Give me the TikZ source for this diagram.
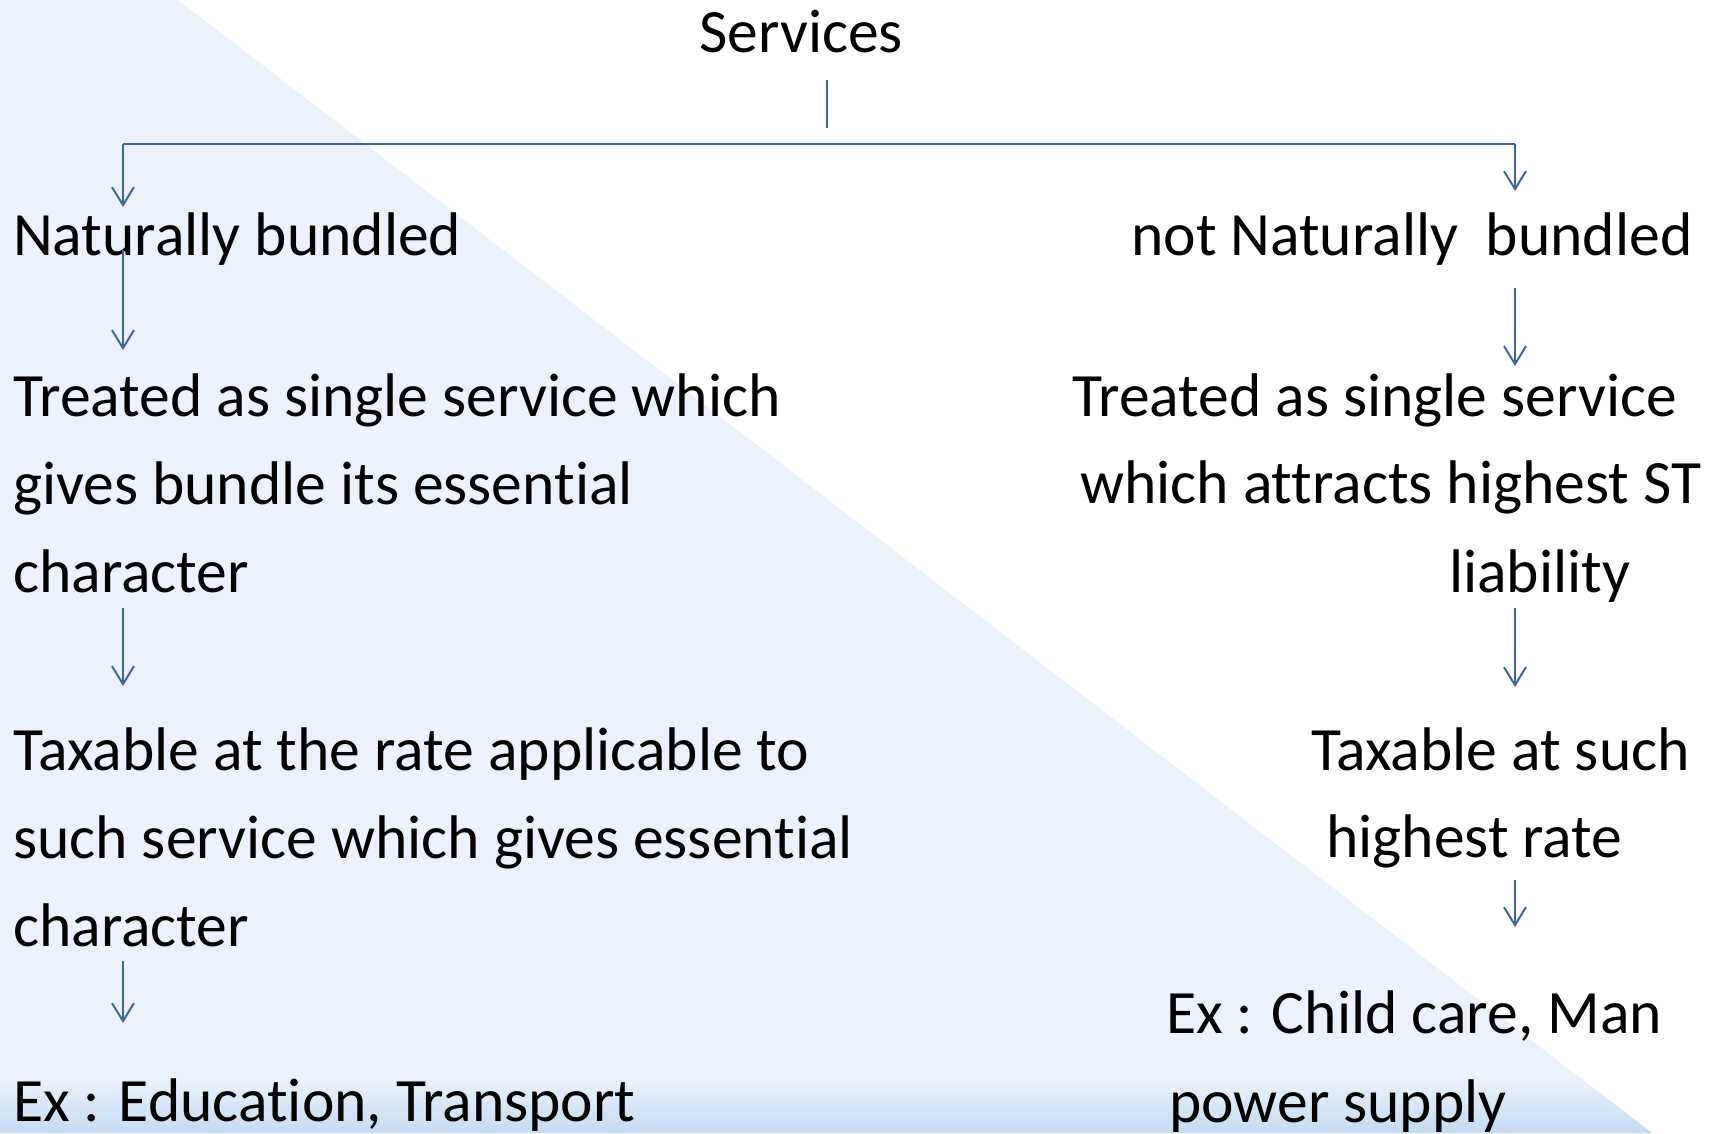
\documentclass[tikz,border=0pt]{standalone}
\usepackage{fontspec}
\setmainfont[Ligatures={NoCommon}]{Carlito}
\usetikzlibrary{arrows.meta}
\definecolor{panelblue}{HTML}{EBF2FC}
\definecolor{bandblue}{HTML}{C4DBF3}
\definecolor{linkblue}{HTML}{3E6698}
\begin{document}
\begin{tikzpicture}[x=1pt,y=-1pt,
  txt/.style={anchor=base west, inner sep=0pt, font=\fontsize{61.6}{74}\selectfont, text=black},
  link/.style={draw=linkblue, line width=2pt, -{Straight Barb[length=18pt,width=22pt]}},
  stub/.style={draw=linkblue, line width=2pt},
  bar/.style={draw=linkblue, line width=2.8pt}]
\useasboundingbox (0,0) rectangle (1713,1133);

% background: white page with a pale blue wedge and a bottom glow
\fill[white] (0,0) rectangle (1713,1133);
\fill[panelblue] (0,0) -- (178,0) -- (1652,1133) -- (0,1133) -- cycle;
\begin{scope}
  \clip (0,0) -- (178,0) -- (1652,1133) -- (0,1133) -- cycle;
  \shade[top color=panelblue, bottom color=bandblue] (0,1078) rectangle (1713,1133);
\end{scope}

% titles and texts
\node[txt] (srv) at (699,52) {Services};

\node[txt] (nb)  at (13,255) {Naturally bundled};
\node[txt] (l1a) at (13,416) {Treated as single service which};
\node[txt] (l1b) at (13,504) {gives bundle its essential};
\node[txt] (l1c) at (13,592) {character};
\node[txt] (l2a) at (13,770) {Taxable at the rate applicable to};
\node[txt] (l2b) at (13,858) {such service which gives essential};
\node[txt] (l2c) at (13,946) {character};
\node[txt] (l3)  at (13,1121) {Ex : Education, Transport};

\node[txt] (nnb) at (1131,255) {not Naturally\ \ bundled};
\node[txt] (r1a) at (1072,416) {Treated as single service};
\node[txt] (r1b) at (1080,503) {which attracts highest ST};
\node[txt] (r1c) at (1449,592) {liability};
\node[txt] (r2a) at (1311,770) {Taxable at such};
\node[txt] (r2b) at (1326,857) {highest rate};
\node[txt] (r3a) at (1166,1033) {Ex : Child care, Man};
\node[txt] (r3b) at (1169,1122) {power supply};

% connector end points
\coordinate (srvS) at (827,80);
\coordinate (srvE) at (827,128);
\coordinate (busL) at (123,144);
\coordinate (busR) at (1515,144);
\coordinate (nbTip) at (123,207);
\coordinate (nnbTip) at (1515,191);

\coordinate (la1) at (123,250);  \coordinate (la2) at (123,350);
\coordinate (lb1) at (123,608);  \coordinate (lb2) at (123,686);
\coordinate (lc1) at (123,961);  \coordinate (lc2) at (123,1023);

\coordinate (ra1) at (1515,288); \coordinate (ra2) at (1515,366);
\coordinate (rb1) at (1515,608); \coordinate (rb2) at (1515,687);
\coordinate (rc1) at (1515,880); \coordinate (rc2) at (1515,927);

% connectors
\draw[stub] (srvS) -- (srvE);
\draw[bar] (busL) -- (busR);
\draw[link] (busL) -- (nbTip);
\draw[link] (busR) -- (nnbTip);

\draw[link] (la1) -- (la2);
\draw[link] (lb1) -- (lb2);
\draw[link] (lc1) -- (lc2);

\draw[link] (ra1) -- (ra2);
\draw[link] (rb1) -- (rb2);
\draw[link] (rc1) -- (rc2);
\end{tikzpicture}
\end{document}
